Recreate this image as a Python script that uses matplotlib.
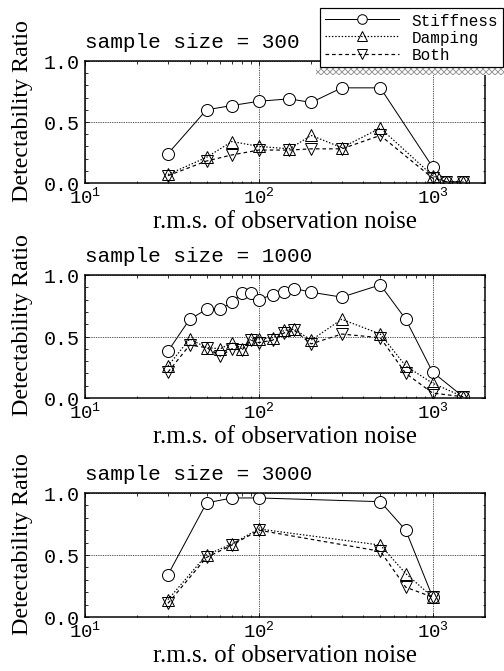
"""
Detectability ratio vs observation noise, three sample sizes
"""
import numpy as np
import matplotlib
matplotlib.use('Agg')
import matplotlib.pyplot as plt
from matplotlib.patches import Rectangle
from matplotlib.ticker import LogLocator, MultipleLocator, FixedLocator
#----------------------------DATA---------------------------------#
x300 = [30, 50, 70, 100, 150, 200, 300, 500, 1000, 1200, 1500]
stiff300 = [0.24, 0.60, 0.635, 0.67, 0.69, 0.66, 0.78, 0.78, 0.13, 0.01, 0.01]
damp300 = [0.07, 0.21, 0.34, 0.30, 0.28, 0.39, 0.29, 0.45, 0.06, 0.01, 0.01]
both300 = [0.06, 0.18, 0.23, 0.27, 0.27, 0.28, 0.28, 0.39, 0.04, 0.01, 0.01]

x1000 = [30, 40, 50, 60, 70, 80, 90, 100, 120, 140, 160, 200, 300, 500, 700, 1000, 1500]
stiff1000 = [0.38, 0.64, 0.72, 0.72, 0.78, 0.85, 0.85, 0.80, 0.84, 0.86, 0.89, 0.86, 0.82, 0.92, 0.64, 0.21, 0.01]
damp1000 = [0.26, 0.48, 0.41, 0.40, 0.45, 0.40, 0.48, 0.48, 0.49, 0.55, 0.56, 0.47, 0.64, 0.52, 0.26, 0.12, 0.01]
both1000 = [0.21, 0.43, 0.41, 0.34, 0.40, 0.39, 0.47, 0.45, 0.47, 0.53, 0.55, 0.44, 0.52, 0.49, 0.20, 0.04, 0.01]

x3000 = [30, 50, 70, 100, 500, 700, 1000]
stiff3000 = [0.34, 0.92, 0.96, 0.96, 0.93, 0.70, 0.16]
damp3000 = [0.14, 0.50, 0.59, 0.71, 0.58, 0.35, 0.16]
both3000 = [0.11, 0.48, 0.58, 0.70, 0.53, 0.24, 0.16]

titles = ['sample size = 300', 'sample size = 1000', 'sample size = 3000']
series_names = ['Stiffness', 'Damping', 'Both']
#-----------------------------------------------------------------#
MONO = 'Liberation Mono'
SERIF = 'Liberation Serif'

fig = plt.figure(figsize=(7, 9.3333), dpi=72)

# panel boxes in pixels: (top, bottom)
boxes = [(62, 184), (276, 399), (494, 618)]
panels = [(x300, stiff300, damp300, both300),
          (x1000, stiff1000, damp1000, both1000),
          (x3000, stiff3000, damp3000, both3000)]

H = 672.0
handles = None
for i, (top, bot) in enumerate(boxes):
    ax = fig.add_axes([85/504., 1 - bot/H, 400/504., (bot - top)/H])
    x, s, d, b = panels[i]
    l1, = ax.plot(x, s, '-', color='k', lw=1.0, marker='o', ms=12, mfc='white', mec='k', mew=1.0)
    l2, = ax.plot(x, d, color='k', lw=1.2, ls=(0, (1.2, 1.5)), marker='^', ms=12, mfc='none', mec='k', mew=1.0)
    l3, = ax.plot(x, b, color='k', lw=1.2, ls=(0, (3, 2.5)), marker='v', ms=12, mfc='none', mec='k', mew=1.0)
    if handles is None:
        handles = [l1, l2, l3]
    ax.set_xscale('log')
    ax.set_xlim(10, 2000)
    ax.set_ylim(0, 1.0)
    ax.xaxis.set_major_locator(FixedLocator([10, 100, 1000]))
    ax.xaxis.set_minor_locator(LogLocator(base=10, subs=np.arange(2, 10)))
    ax.yaxis.set_major_locator(MultipleLocator(0.5))
    ax.yaxis.set_minor_locator(MultipleLocator(0.1))
    ax.tick_params(which='both', direction='in', top=True, right=True, width=0.8)
    ax.tick_params(which='major', length=4)
    ax.tick_params(which='minor', length=2.5)
    ax.tick_params(axis='y', pad=5)
    ax.tick_params(axis='x', pad=3)
    ax.grid(True, which='major', color='k', lw=0.8, ls=(0, (1, 1.2)))
    for sp in ax.spines.values():
        sp.set_linewidth(1.5)
    ax.yaxis.set_major_formatter(plt.FuncFormatter(lambda v, p: '%.1f' % v))
    for lab in ax.get_yticklabels():
        lab.set_fontfamily(MONO)
        lab.set_fontsize(20)
    for lab in ax.get_xticklabels():
        lab.set_fontfamily(MONO)
        lab.set_fontsize(19)
    ax.set_ylabel('Detectability Ratio', fontfamily=SERIF, fontsize=24)
    ax.yaxis.set_label_coords(-0.13, 0.6)
    ax.set_xlabel('r.m.s. of observation noise', fontfamily=SERIF, fontsize=25, labelpad=3)
    ax.text(0.0, 1.08, titles[i], transform=ax.transAxes, fontfamily=MONO, fontsize=21,
            ha='left', va='bottom')

# legend box at top right with hatched shadow under it
fig.patches.append(Rectangle((316/504., 1 - 76/H), 188/504., 7/H, transform=fig.transFigure,
                             facecolor='white', edgecolor='#999999', hatch='xxxx', lw=0))
leg = fig.legend(handles, series_names, loc='upper right', bbox_to_anchor=(0.998, 0.987),
                 prop={'family': MONO, 'size': 16}, frameon=True, fancybox=False,
                 handlelength=4.6, labelspacing=0.15, borderpad=0.3, handletextpad=0.8,
                 borderaxespad=0, markerscale=0.8)
leg.get_frame().set_edgecolor('k')
leg.get_frame().set_linewidth(1.2)
leg.get_frame().set_alpha(1)

plt.savefig('out.png', dpi=72)
